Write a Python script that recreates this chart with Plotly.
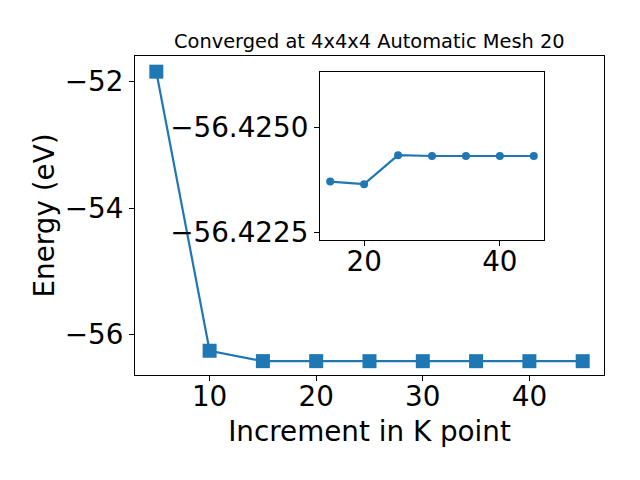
import plotly.graph_objects as go

kpoints = [5, 10, 15, 20, 25, 30, 35, 40, 45]
energy = [-51.842, -56.259, -56.4237, -56.42364, -56.42433, -56.42431, -56.42431, -56.42431, -56.42431]
inset_k = kpoints[2:]
inset_e = energy[2:]

title_text = "Converged at 4x4x4 Automatic Mesh 20"
blue = "#1f77b4"
font = "DejaVu Sans"

fig = go.Figure()
fig.add_trace(go.Scatter(x=kpoints, y=energy, mode="lines+markers",
                         line=dict(color=blue, width=2.2),
                         marker=dict(symbol="square", size=14, color=blue),
                         xaxis="x", yaxis="y", showlegend=False))
fig.add_trace(go.Scatter(x=inset_k, y=inset_e, mode="lines+markers",
                         line=dict(color=blue, width=2.2),
                         marker=dict(symbol="circle", size=8, color=blue),
                         xaxis="x2", yaxis="y2", showlegend=False))

axis_common = dict(showgrid=False, zeroline=False, showline=True, linecolor="black",
                   linewidth=1.1, mirror=True, ticks="outside", ticklen=5, tickwidth=1.1,
                   tickcolor="black", tickfont=dict(size=27.8, color="black", family=font))

# page body has an 8px margin, so the figure is shrunk by 8px and left/top margins offset
fig.update_layout(
    width=632, height=472,
    margin=dict(l=127, r=36, t=48, b=105),
    paper_bgcolor="white", plot_bgcolor="white",
    font=dict(family=font, color="black"),
    xaxis=dict(domain=[0, 1], range=[3, 47], tickvals=[10, 20, 30, 40], ticklabelstandoff=-8,
               title=dict(text="Increment in K point", font=dict(size=27.8), standoff=9),
               **axis_common),
    yaxis=dict(domain=[0, 1], range=[-56.643, -51.594], tickvals=[-52, -54, -56],
               title=dict(text="Energy (eV)", font=dict(size=27.8), standoff=1),
               **axis_common),
    xaxis2=dict(domain=[0.3945, 0.872], anchor="y2", range=[13.5, 46.5], tickvals=[20, 40],
                ticklabelstandoff=-8, **axis_common),
    yaxis2=dict(domain=[0.4232, 0.9498], anchor="x2", range=[-56.42231, -56.42631],
                tickvals=[-56.4250, -56.4225], tickformat=".4f", **axis_common),
    annotations=[dict(text=title_text, xref="paper", yref="paper", x=0.5, y=1,
                      yshift=1, xanchor="center", yanchor="bottom", showarrow=False,
                      font=dict(size=19.4, family=font, color="black"))],
)

fig.write_html("out.html")
